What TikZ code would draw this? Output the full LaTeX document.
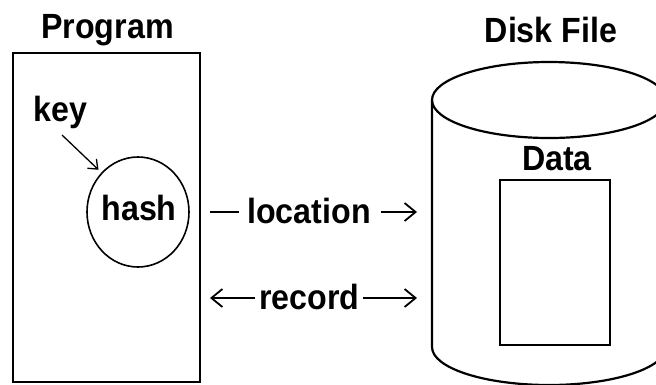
\documentclass[tikz,border=0pt]{standalone}
\usepackage{fontspec}
\setmainfont{Liberation Sans}[FakeStretch=0.92]
\usetikzlibrary{arrows.meta,shapes.geometric}
\begin{document}
\begin{tikzpicture}[x=1pt,y=-1pt,
  lbl/.style={font=\fontsize{35}{35}\selectfont\bfseries, inner sep=0pt, anchor=base},
  outline/.style={line width=2.2pt},
  thinline/.style={line width=1.8pt},
  bigtip/.style={-{Straight Barb[length=11pt,width=18pt,line width=1.8pt]}},
  smalltip/.style={-{Straight Barb[length=8pt,width=13pt,line width=1.3pt]}},
]
\useasboundingbox (0,0) rectangle (656,384);
\clip (0,0) rectangle (656,384);

% program side
\node (prog) [draw, outline, inner sep=0pt, minimum width=187pt, minimum height=329pt] at (106.5,217.5) {};
\node (progtitle) [lbl] at (107.5,38.3) {Program};
\node (key) [lbl] at (60.5,121.7) {key};
\node (hash) [ellipse, draw, line width=1.6pt, inner sep=0pt, minimum width=102pt, minimum height=110pt] at (138,212) {};
\node (hashtxt) [lbl] at (139,220) {hash};
\coordinate (k0) at (62,135);
\draw[smalltip, line width=1.3pt, shorten >=4pt] (k0) -- (hash.north west);

% disk file: cylinder with the data block inside
\node (disktitle) [lbl] at (551,42.7) {Disk File};
\draw[outline] (549,100) ellipse [x radius=117, y radius=38];
\draw[outline] (432,100) -- (432,347) arc[start angle=180, end angle=0, x radius=117, y radius=38];
\node (datatxt) [lbl] at (557,170) {Data};
\node (data) [draw, outline, inner sep=0pt, minimum width=110pt, minimum height=165pt] at (555,262.5) {};

% transfer between program and disk
\coordinate (l0) at (210,212);
\coordinate (l1) at (417,212);
\coordinate (r0) at (210,298);
\coordinate (r1) at (417,298);
\node (loc) [lbl] at (309,223) {location};
\node (rec) [lbl] at (309.5,309) {record};
\draw[thinline, shorten >=8pt] (l0) -- (loc.west |- l0);
\draw[thinline, bigtip, shorten <=10pt] (loc.east |- l1) -- (l1);
\draw[thinline, bigtip, shorten <=4pt] (rec.west |- r0) -- (r0);
\draw[thinline, bigtip, shorten <=3pt] (rec.east |- r1) -- (r1);
\end{tikzpicture}
\end{document}
